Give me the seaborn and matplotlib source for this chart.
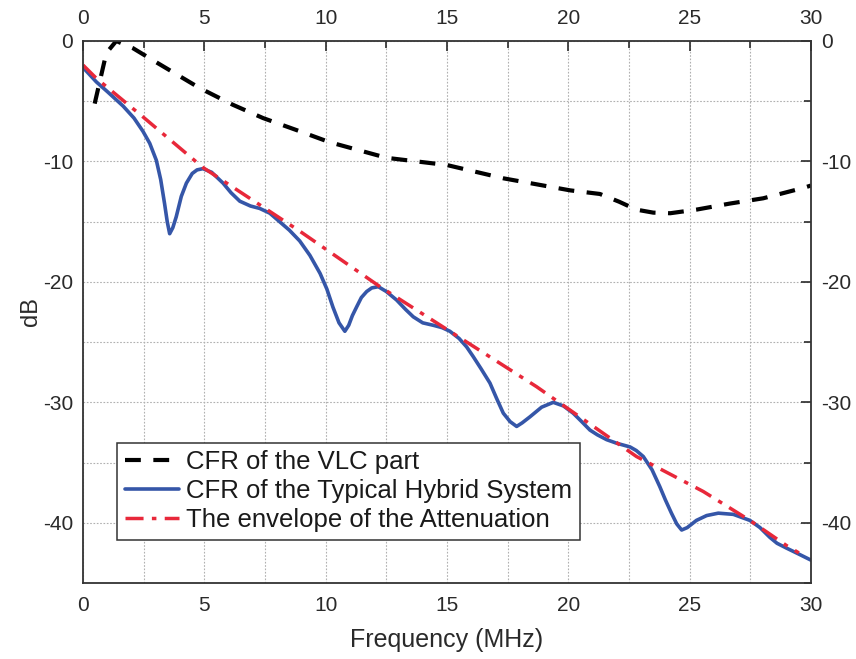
import numpy as np
import pandas as pd
import matplotlib
matplotlib.use("Agg")
import matplotlib.pyplot as plt
import seaborn as sns
from matplotlib.ticker import MultipleLocator

# ---- data ----
vlc_x = [0.48, 0.96, 1.37, 2.06, 2.88, 4.8, 6.18, 7.42, 8.94, 10.16, 12.51, 15.0,
         17.32, 20.07, 21.3, 22.1, 22.8, 23.5, 24.2, 25.28, 26.65, 28.03, 29.68, 30.0]
vlc_y = [-5.2, -1.0, 0.0, -0.6, -1.6, -3.9, -5.3, -6.4, -7.5, -8.4, -9.7, -10.3,
         -11.4, -12.4, -12.7, -13.35, -14.0, -14.25, -14.3, -14.0, -13.5, -13.06, -12.2, -12.0]

hyb_x = [0.0, 0.55, 1.0, 1.65, 2.1, 2.47, 2.75, 3.02, 3.2, 3.36, 3.47, 3.57, 3.7, 3.84,
         4.05, 4.26, 4.5, 4.7, 4.94, 5.3, 5.77, 6.1, 6.46, 6.9, 7.28, 7.7, 8.1, 8.5,
         8.93, 9.35, 9.77, 10.05, 10.3, 10.55, 10.79, 10.95, 11.1, 11.27, 11.47,
         11.69, 11.9, 12.17, 12.5, 12.92, 13.3, 13.61, 14.0, 14.43, 14.8, 15.12,
         15.5, 15.81, 16.08, 16.4, 16.77, 17.05, 17.32, 17.6, 17.87, 18.1, 18.42,
         18.9, 19.38, 19.8, 20.2, 20.55, 20.89, 21.2, 21.58, 22.0, 22.54, 22.8,
         23.09, 23.45, 23.77, 24.0, 24.25, 24.47, 24.67, 24.9, 25.28, 25.7, 26.18,
         26.8, 27.48, 27.9, 28.3, 28.6, 28.99, 29.5, 30.0]
hyb_y = [-2.2, -3.4, -4.2, -5.4, -6.4, -7.5, -8.5, -9.9, -11.5, -13.5, -15.0, -16.0, -15.5,
         -14.6, -12.9, -11.8, -11.0, -10.7, -10.6, -10.9, -11.8, -12.6, -13.3, -13.7,
         -13.9, -14.3, -15.0, -15.7, -16.6, -17.8, -19.3, -20.6, -22.1, -23.4, -24.1,
         -23.6, -22.8, -22.1, -21.3, -20.8, -20.5, -20.4, -20.8, -21.5, -22.3, -22.9,
         -23.4, -23.6, -23.8, -24.1, -24.7, -25.4, -26.2, -27.2, -28.4, -29.7, -30.9,
         -31.6, -32.0, -31.7, -31.2, -30.4, -30.0, -30.3, -30.9, -31.6, -32.3, -32.7,
         -33.1, -33.4, -33.7, -34.0, -34.5, -35.6, -37.0, -38.1, -39.2, -40.1, -40.6,
         -40.4, -39.8, -39.4, -39.2, -39.3, -39.8, -40.4, -41.2, -41.7, -42.1, -42.6,
         -43.1]

env_x = [0.0, 0.55, 2.47, 4.94, 8.94, 12.24, 16.36, 18.69, 22.81, 25.56, 27.48, 29.0, 29.5]
env_y = [-2.0, -3.1, -6.3, -10.5, -15.8, -20.4, -25.7, -28.7, -34.5, -37.4, -39.8, -41.9, -42.5]

labels = ["CFR of the VLC part",
          "CFR of the Typical Hybrid System",
          "The envelope of the Attenuation"]
x_ticks = [0, 5, 10, 15, 20, 25, 30]
y_ticks = [0, -10, -20, -30, -40]

sns.set_theme(style="white")
plt.rcParams["font.family"] = ["Liberation Sans", "DejaVu Sans"]
plt.rcParams["axes.unicode_minus"] = False

fig = plt.figure(figsize=(8.56, 6.59), dpi=100)
ax = fig.add_axes([0.097, 0.1153, 0.8504, 0.8225])

sns.lineplot(x=vlc_x, y=vlc_y, ax=ax, color="black", lw=3.0, sort=False,
             estimator=None, label=labels[0])
ax.lines[-1].set_dashes([3.8, 3.0])
sns.lineplot(x=hyb_x, y=hyb_y, ax=ax, color="#3556A8", lw=2.6, sort=False,
             estimator=None, label=labels[1])
sns.lineplot(x=env_x, y=env_y, ax=ax, color="#E8283A", lw=2.5, sort=False,
             estimator=None, label=labels[2])
ax.lines[-1].set_dashes([5.2, 2.4, 1.3, 2.4])

ax.set_xlim(0, 30)
ax.set_ylim(-45, 0)
ax.xaxis.set_minor_locator(MultipleLocator(2.5))
ax.yaxis.set_minor_locator(MultipleLocator(5))
ax.set_xticks(x_ticks)
ax.set_yticks(y_ticks)

ax.grid(True, which="both", color="#b0b0b0", linestyle=(0, (1.5, 1.5)), lw=0.8)
ax.set_axisbelow(True)

ax.tick_params(which="both", direction="in", top=True, right=True,
               labeltop=True, labelright=True, labelsize=15, colors="#2a2a2a")
ax.tick_params(which="major", length=7, width=1.2)
ax.tick_params(which="minor", length=5, width=1.2)
ax.tick_params(axis="x", which="major", pad=9)
ax.tick_params(axis="y", which="major", pad=7)
for s in ax.spines.values():
    s.set_color("#333333")
    s.set_linewidth(1.3)

ax.set_xlabel("Frequency (MHz)", fontsize=18, labelpad=10, color="#2a2a2a")
ax.set_ylabel("dB", fontsize=17, labelpad=1, color="#2a2a2a")

leg = ax.legend(loc="lower left", bbox_to_anchor=(0.0467, 0.079), fontsize=18.5,
                frameon=True, fancybox=False, framealpha=1, edgecolor="#333333",
                handlelength=2.1, handletextpad=0.3, borderpad=0.3,
                labelspacing=0.2, borderaxespad=0)
leg.get_frame().set_linewidth(1.1)
for t in leg.get_texts():
    t.set_color("#1a1a1a")

fig.savefig("out.png", dpi=100)
